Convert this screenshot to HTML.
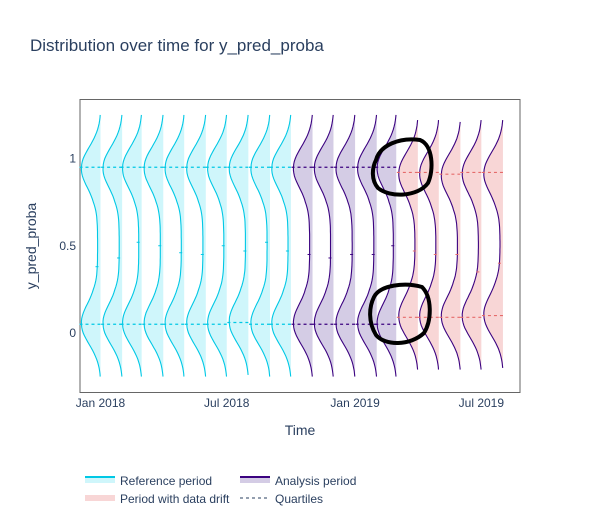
<!DOCTYPE html>
<html><head><meta charset="utf-8"><style>
body{margin:0;background:#fff;font-family:"Liberation Sans",Arial,sans-serif;}
svg text{font-family:"Liberation Sans",Arial,sans-serif;fill:#2a3f5f;}
</style></head><body>
<svg id="chart" width="600" height="525" xmlns="http://www.w3.org/2000/svg">
<rect width="600" height="525" fill="#fff"/>
<text x="30" y="51" font-size="17">Distribution over time for y_pred_proba</text>
<rect x="80" y="99.5" width="440" height="293" fill="none" stroke="#666" stroke-width="1"/>
<g id="marks"></g>
<g id="ticks"></g>
<text x="300" y="435" font-size="14" text-anchor="middle">Time</text>
<text transform="translate(36,246) rotate(-90)" font-size="14" text-anchor="middle">y_pred_proba</text>
<path d="M376,160 C380,145 400,137 420,140 C433,145 434,170 428,183 C418,197 390,198 378,188 C371,180 372,168 376,160 Z" fill="none" stroke="#000" stroke-width="4"/>
<path d="M374,297 C380,285 405,282 422,287 C432,297 432,320 424,333 C410,346 385,346 376,335 C368,322 369,307 374,297 Z" fill="none" stroke="#000" stroke-width="4"/>
<g>
<g><rect x="85" y="477" width="30" height="6" fill="#cff6fb"/><line x1="85" y1="477" x2="115" y2="477" stroke="#00c8e5" stroke-width="2"/><text x="120" y="485" font-size="12">Reference period</text></g>
<g><rect x="240" y="477" width="30" height="6" fill="#d4cce5"/><line x1="240" y1="477" x2="270" y2="477" stroke="#3b0280" stroke-width="2"/><text x="275" y="485" font-size="12">Analysis period</text></g>
<g><rect x="85" y="495" width="30" height="6" fill="#f8d6d6"/><text x="120" y="503" font-size="12">Period with data drift</text></g>
<g><line x1="240" y1="498" x2="270" y2="498" stroke="#2a3f5f" stroke-width="1" stroke-dasharray="3,3"/><text x="275" y="503" font-size="12">Quartiles</text></g>
</g>
</svg>
<script>
const months = ["2018-01","2018-02","2018-03","2018-04","2018-05","2018-06","2018-07","2018-08","2018-09","2018-10","2018-11","2018-12","2019-01","2019-02","2019-03","2019-04","2019-05","2019-06","2019-07","2019-08"];
const period = ["ref","ref","ref","ref","ref","ref","ref","ref","ref","ref","ana","ana","ana","ana","ana","drift","drift","drift","drift","drift"];
const q1 = [0.05,0.05,0.05,0.05,0.05,0.05,0.05,0.06,0.05,0.05,0.05,0.05,0.05,0.05,0.05,0.09,0.09,0.09,0.09,0.1];
const median = [0.38,0.43,0.52,0.5,0.46,0.45,0.5,0.47,0.52,0.47,0.45,0.43,0.45,0.45,0.5,0.47,0.45,0.45,0.35,0.4];
const q3 = [0.95,0.95,0.95,0.95,0.95,0.95,0.95,0.95,0.95,0.95,0.95,0.95,0.95,0.95,0.95,0.92,0.92,0.91,0.92,0.92];
const xTickLabels = ["Jan 2018","Jul 2018","Jan 2019","Jul 2019"];
const xTickDates = ["2018-01","2018-07","2019-01","2019-07"];
const yTicks = [0,0.5,1];

const NS="http://www.w3.org/2000/svg";
const x0=new Date("2018-01-01").getTime();
function xs(m){const t=new Date(m+"-01").getTime();return 100.5+(t-x0)/86400000*0.6975;}
function ys(v){return 333-v*174.5;}
const style={ref:{line:"#00c8e5",fill:"#cff6fb",q:"#00c8e5"},ana:{line:"#3b0280",fill:"#d4cce5",q:"#3b0280"},drift:{line:"#3b0280",fill:"#f8d6d6",q:"#e56b6b"}};
const marks=document.getElementById("marks");
function g(y,m,s){return Math.exp(-0.5*((y-m)/s)**2);}
months.forEach((m,i)=>{
  const st=style[period[i]];
  const bx=xs(m);
  const lo=q1[i]-0.3, hi=q3[i]+0.3;
  const pts=[];
  for(let k=0;k<=90;k++){
    const y=lo+(hi-lo)*k/90;
    let d=g(y,q1[i],0.115)+g(y,q3[i],0.115);
    const inner=Math.min(1,Math.max(0,(y-q1[i])/0.2))*Math.min(1,Math.max(0,(q3[i]-y)/0.2));
    d+=0.17*inner;
    d=Math.max(0,d-0.02);
    pts.push([bx-20*Math.min(d,1.03)/1.03,ys(y)]);
  }
  let dstr="M"+bx+","+ys(lo)+" "+pts.map(p=>"L"+p[0].toFixed(1)+","+p[1].toFixed(1)).join(" ")+" L"+bx+","+ys(hi)+" Z";
  const f=document.createElementNS(NS,"path");
  f.setAttribute("d",dstr);f.setAttribute("fill",st.fill);
  
  
  marks.appendChild(f);
  const l=document.createElementNS(NS,"path");
  l.setAttribute("d","M"+pts.map(p=>p[0].toFixed(1)+","+p[1].toFixed(1)).join(" L"));
  l.setAttribute("fill","none");l.setAttribute("stroke",st.line);l.setAttribute("stroke-width","1.1");
  
  
  marks.appendChild(l);
  [q1[i],q3[i]].forEach((q,j)=>{
    const ql=document.createElementNS(NS,"line");
    ql.setAttribute("x1",bx-21);ql.setAttribute("x2",bx);ql.setAttribute("y1",ys(q));ql.setAttribute("y2",ys(q));
    ql.setAttribute("stroke",st.q);ql.setAttribute("stroke-width","1.2");ql.setAttribute("stroke-dasharray","3,3");
    
    
    marks.appendChild(ql);
  });
  const md=document.createElementNS(NS,"line");
  md.setAttribute("x1",bx-5);md.setAttribute("x2",bx-2);md.setAttribute("y1",ys(median[i]));md.setAttribute("y2",ys(median[i]));
  md.setAttribute("stroke",st.q);md.setAttribute("stroke-width","1");
  
  
  marks.appendChild(md);
});
const ticks=document.getElementById("ticks");
xTickDates.forEach((d,i)=>{
  const t=document.createElementNS(NS,"text");
  t.setAttribute("x",xs(d));t.setAttribute("y",407);t.setAttribute("font-size","12");t.setAttribute("text-anchor","middle");
  t.textContent=xTickLabels[i];
  
  
  ticks.appendChild(t);
});
yTicks.forEach(v=>{
  const t=document.createElementNS(NS,"text");
  t.setAttribute("x",76);t.setAttribute("y",ys(v)+4);t.setAttribute("font-size","12");t.setAttribute("text-anchor","end");
  t.textContent=String(v);
  
  
  ticks.appendChild(t);
});
</script>
</body></html>
